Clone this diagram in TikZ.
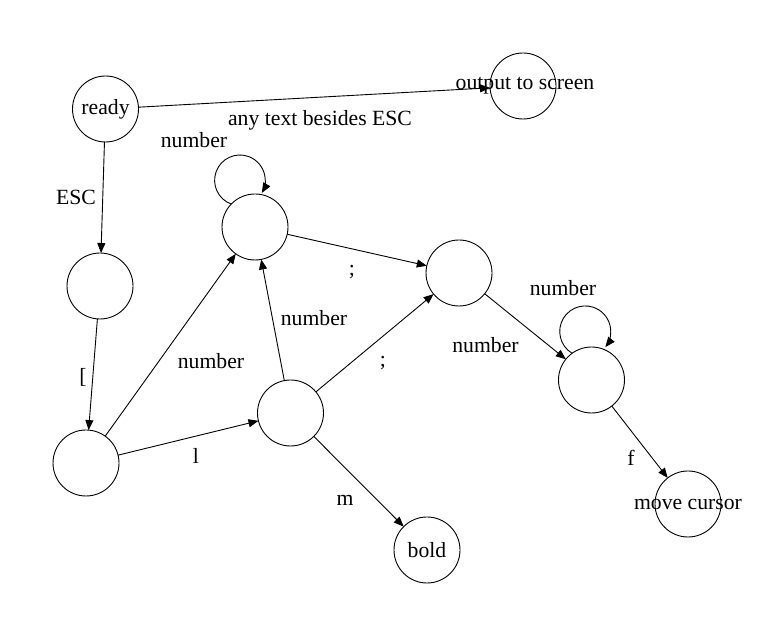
\documentclass[tikz,border=0pt]{standalone}
\usepackage{fontspec}
\setmainfont{Liberation Serif}
\usetikzlibrary{arrows.meta}
\begin{document}
\begin{tikzpicture}[x=1pt,y=1pt,
  every node/.style={font=\fontsize{21.7}{26}\selectfont},
  state/.style={draw, circle, minimum size=66pt, inner sep=0pt, outer sep=0pt, line width=0.9pt},
  lbl/.style={inner sep=0pt},
  arr/.style={line width=0.9pt, -{Triangle[length=10pt,width=8pt]}}]
\useasboundingbox (0,0) rectangle (774,618);
% states
\node[state] (ready) at (105.5,509) {ready};
\node[state] (out) at (523,532) {};
\node[lbl] (outtxt) at (525,532) {output to screen};
\node[state] (n1) at (100,332) {};
\node[state] (n2) at (86,155) {};
\node[state] (n3) at (255,391) {};
\node[state] (n4) at (290.5,205) {};
\node[state] (n5) at (459,345) {};
\node[state] (n6) at (591.5,238) {};
\node[state] (mc) at (688,114) {};
\node[lbl] (mctxt) at (688,114) {move cursor};
\node[state] (bold) at (427,68) {bold};
% edges
\draw[arr] (ready) -- (out);
\draw[arr] (ready) -- (n1);
\draw[arr] (n1) -- (n2);
\draw[arr] (n2) -- (n3);
\draw[arr] (n2) -- (n4);
\draw[arr] (n4) -- (n3);
\draw[arr] (n4) -- (n5);
\draw[arr] (n3) -- (n5);
\draw[arr] (n5) -- (n6);
\draw[arr] (n4) -- (bold);
\draw[arr] (n6) -- (mc);
% self loops
\draw[arr] (n3.136.5) arc[start angle=250, end angle=-30, radius=25.3pt];
\draw[arr] (n6.126.8) arc[start angle=239, end angle=-38, radius=25.5pt];
% labels
\node[lbl] (l1) at (320,498) {any text besides ESC};
\node[lbl] (l2) at (194,478) {number};
\node[lbl] (l3) at (76,421) {ESC};
\node[lbl] (l4) at (352,346) {;};
\node[lbl] (l5) at (314,300) {number};
\node[lbl] (l6) at (211,257) {number};
\node[lbl] (l7) at (83,241) {[};
\node[lbl] (l8) at (196,162) {l};
\node[lbl] (l9) at (383,255) {;};
\node[lbl] (l10) at (345,118) {m};
\node[lbl] (l11) at (563,330) {number};
\node[lbl] (l12) at (485.5,273) {number};
\node[lbl] (l13) at (631,160) {f};
\end{tikzpicture}
\end{document}
